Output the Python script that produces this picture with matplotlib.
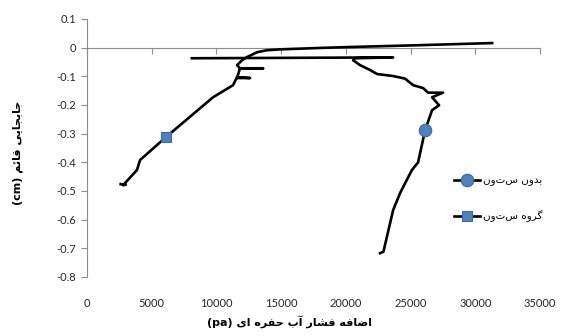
import matplotlib
matplotlib.use("Agg")
import matplotlib.pyplot as plt

# ---------------------------------------------------------------- data
# series "بدون ستون" (without column): excess pore pressure (pa) vs settlement (cm)
no_col_x = [22640, 22900, 23650, 24190, 25100, 25580, 26120, 26660, 27200, 26660,
            27510, 26350, 25970, 25200, 24570, 23650, 22410, 21870, 21100, 20560,
            20710, 23650, 8100]
no_col_y = [-0.717, -0.712, -0.567, -0.507, -0.427, -0.400, -0.288, -0.218, -0.201, -0.173,
            -0.157, -0.157, -0.141, -0.131, -0.108, -0.099, -0.092, -0.078, -0.061, -0.044,
            -0.037, -0.034, -0.037]
no_col_marker = 6

# series "گروه ستون" (column group)
grp_x = [2600, 3000, 2780, 3860, 4100, 6100, 9740, 11280, 11590, 12600,
         11590, 11820, 13600, 11820, 11590, 11980, 12360, 13140, 13910, 14900,
         18000, 20100, 25200, 31300]
grp_y = [-0.476, -0.478, -0.480, -0.427, -0.392, -0.312, -0.173, -0.131, -0.103, -0.106,
         -0.106, -0.072, -0.072, -0.072, -0.061, -0.044, -0.033, -0.016, -0.009, -0.006,
         -0.001, 0.002, 0.008, 0.016]
grp_marker = 5

x_ticks = [0, 5000, 10000, 15000, 20000, 25000, 30000, 35000]
y_ticks = [0.1, 0, -0.1, -0.2, -0.3, -0.4, -0.5, -0.6, -0.7, -0.8]

label_no_col = "بدون ستون"
label_grp = "گروه ستون"
x_title = ("اضافه فشار آب حفره ای", "(pa)")
y_title = ("جابجایی قائم", "(cm)")

# ---------------------------------------------------------------- arabic shaping
# (isolated, final, initial, medial); two-form letters only join to the right
FORMS = {
    "ا": ("\uFE8D", "\uFE8E"), "آ": ("\uFE81", "\uFE82"),
    "د": ("\uFEA9", "\uFEAA"), "ر": ("\uFEAD", "\uFEAE"),
    "و": ("\uFEED", "\uFEEE"),
    "ب": ("\uFE8F", "\uFE90", "\uFE91", "\uFE92"),
    "ج": ("\uFE9D", "\uFE9E", "\uFE9F", "\uFEA0"),
    "ح": ("\uFEA1", "\uFEA2", "\uFEA3", "\uFEA4"),
    "س": ("\uFEB1", "\uFEB2", "\uFEB3", "\uFEB4"),
    "ش": ("\uFEB5", "\uFEB6", "\uFEB7", "\uFEB8"),
    "ض": ("\uFEBD", "\uFEBE", "\uFEBF", "\uFEC0"),
    "ف": ("\uFED1", "\uFED2", "\uFED3", "\uFED4"),
    "ق": ("\uFED5", "\uFED6", "\uFED7", "\uFED8"),
    "م": ("\uFEE1", "\uFEE2", "\uFEE3", "\uFEE4"),
    "ن": ("\uFEE5", "\uFEE6", "\uFEE7", "\uFEE8"),
    "ه": ("\uFEE9", "\uFEEA", "\uFEEB", "\uFEEC"),
    "ئ": ("\uFE89", "\uFE8A", "\uFE8B", "\uFE8C"),
    "ی": ("\uFBFC", "\uFBFD", "\uFBFE", "\uFBFF"),
    "گ": ("\uFB92", "\uFB93", "\uFB94", "\uFB95"),
}


def shape(text):
    out = []
    for i, ch in enumerate(text):
        if ch not in FORMS:
            out.append(ch)
            continue
        f = FORMS[ch]
        prev = text[i - 1] if i > 0 else ""
        nxt = text[i + 1] if i + 1 < len(text) else ""
        jp = prev in FORMS and len(FORMS[prev]) == 4
        jn = len(f) == 4 and nxt in FORMS
        if jp and jn:
            out.append(f[3])
        elif jp:
            out.append(f[1])
        elif jn:
            out.append(f[2])
        else:
            out.append(f[0])
    return "".join(out)[::-1]


def title(parts):
    arabic, latin = parts
    return latin + " " + shape(arabic)


# ---------------------------------------------------------------- figure
plt.rcParams["font.family"] = ["Lato", "DejaVu Sans"]
fig = plt.figure(figsize=(5.62, 3.36), dpi=100)
ax = fig.add_axes([0.1548, 0.1756, 0.8061, 0.7679])

blue = "#4F81BD"
edge = "#3C6A9E"
axis_col = "#8C8C8C"

ax.plot(no_col_x, no_col_y, color="black", lw=1.9, marker="o", markersize=9,
        markerfacecolor=blue, markeredgecolor=edge, markeredgewidth=0.8,
        markevery=[no_col_marker], label=shape(label_no_col), zorder=3)
ax.plot(grp_x, grp_y, color="black", lw=1.9, marker="s", markersize=7,
        markerfacecolor=blue, markeredgecolor=edge, markeredgewidth=0.8,
        markevery=[grp_marker], label=shape(label_grp), zorder=3)

ax.set_xlim(0, 35000)
ax.set_ylim(-0.8, 0.1)

for s in ("top", "right"):
    ax.spines[s].set_visible(False)
ax.spines["left"].set_color(axis_col)
ax.spines["bottom"].set_color(axis_col)
ax.spines["bottom"].set_position(("data", 0))

ax.set_yticks(y_ticks)
ax.set_yticklabels(["0" if v == 0 else f"{v:.1f}" for v in y_ticks])
ax.tick_params(axis="y", direction="out", length=4, color=axis_col,
               labelsize=8, labelcolor="#262626", pad=4)
ax.set_xticks(x_ticks)
ax.tick_params(axis="x", direction="out", length=4, color=axis_col,
               labelbottom=False)

# tick labels along the bottom edge of the plot area
sec = ax.secondary_xaxis(0.0)
sec.set_xticks(x_ticks)
sec.set_xticklabels([str(v) for v in x_ticks])
sec.spines["bottom"].set_visible(False)
sec.tick_params(axis="x", length=0, labelsize=8, labelcolor="#262626", pad=15)

fig.text(0.516, 0.042, title(x_title), ha="center", va="center",
         fontsize=8, fontweight="bold", family=["DejaVu Sans"])
fig.text(0.032, 0.545, title(y_title), ha="center", va="center", rotation=90,
         fontsize=8, fontweight="bold", family=["DejaVu Sans"])

fig.legend(loc="upper left", bbox_to_anchor=(0.807, 0.478), frameon=False,
           handlelength=2.5, handletextpad=0.3, labelspacing=2.3,
           borderpad=0, borderaxespad=0, numpoints=1,
           prop={"family": ["DejaVu Sans"], "size": 7.5})

fig.savefig("out.png", dpi=100)
